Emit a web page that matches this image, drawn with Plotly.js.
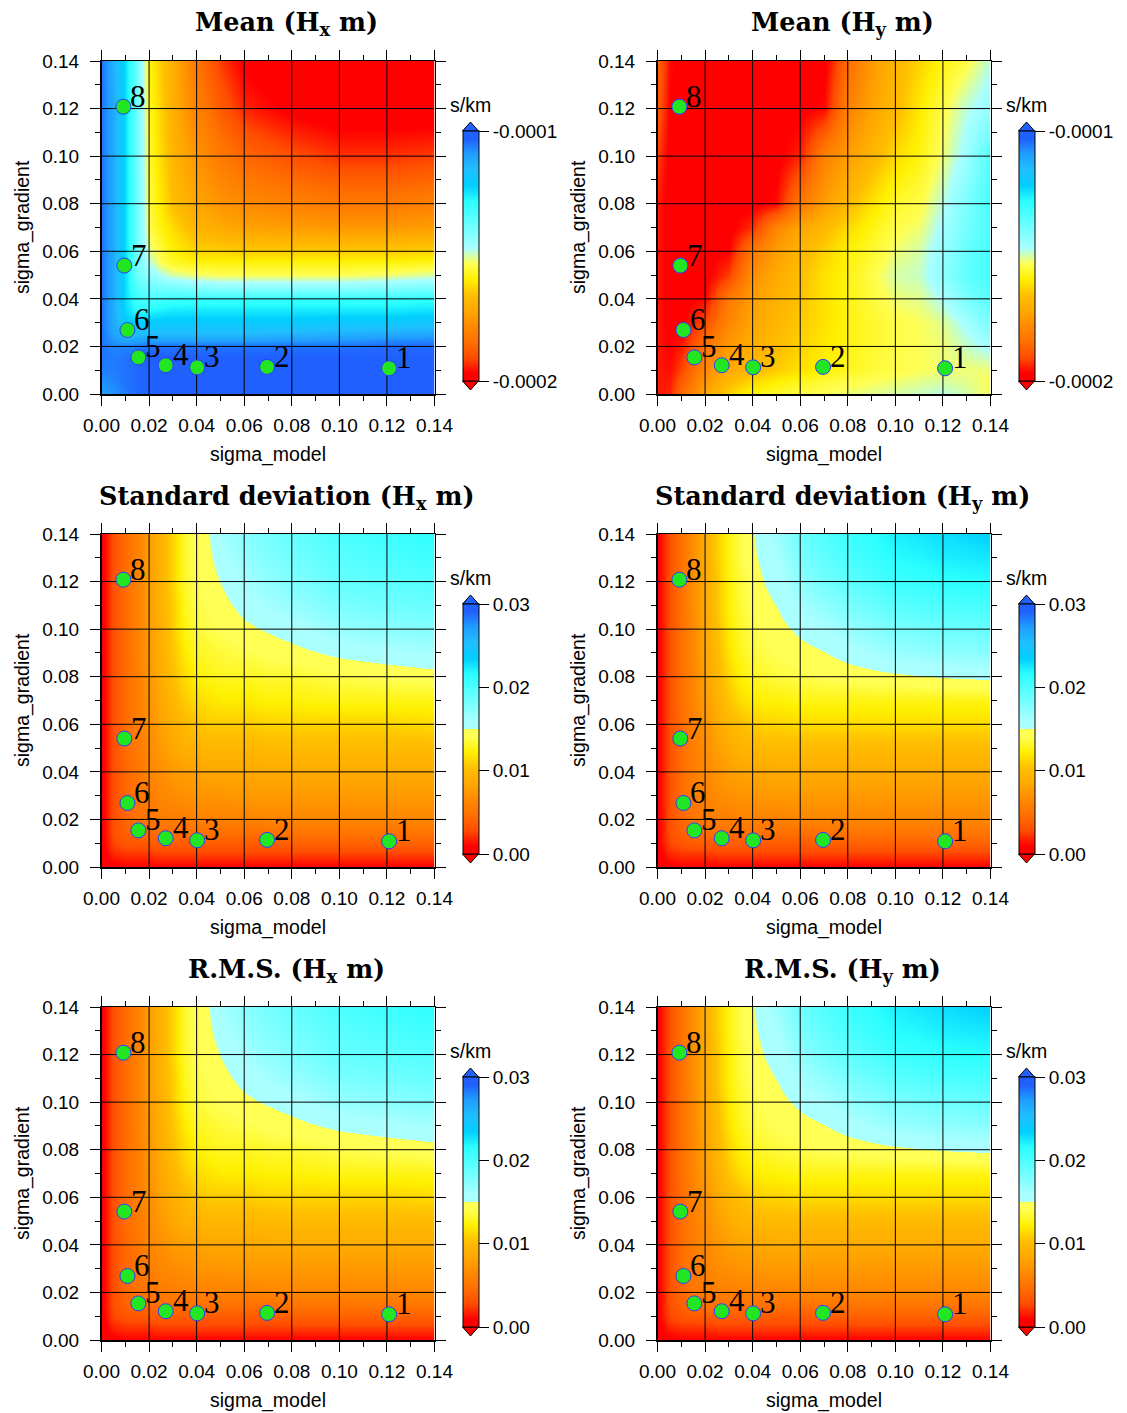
<!DOCTYPE html>
<html><head><meta charset="utf-8">
<script src="https://cdn.plot.ly/plotly-3.0.1.min.js"></script>
<style>html,body{margin:0;padding:0;background:#fff}#chart{width:1127px;height:1413px}</style>
</head><body><div id="chart"></div>
<script>
// ---------------- data ----------------
const axisRange = [0, 0.14];
const sigmaModelTicks = [0, 0.02, 0.04, 0.06, 0.08, 0.10, 0.12, 0.14];
const sigmaGradientTicks = [0, 0.02, 0.04, 0.06, 0.08, 0.10, 0.12, 0.14];

const ptLabels = ['1', '2', '3', '4', '5', '6', '7', '8'];
const ptSigmaModel = [0.1209, 0.0696, 0.0402, 0.0270, 0.0155, 0.0109, 0.0096, 0.0092];
const ptSigmaGradient = [0.0108, 0.0114, 0.0112, 0.0121, 0.0154, 0.0269, 0.0540, 0.1208];

const meanTickVals = [-1e-4, -2e-4];
const meanTickText = ['-0.0001', '-0.0002'];
const stdTickVals = [0, 0.01, 0.02, 0.03];
const stdTickText = ['0.00', '0.01', '0.02', '0.03'];

// Mean (Hx m), s/km
const meanHxX = [0, 0.005, 0.01, 0.015, 0.02, 0.025, 0.03, 0.04, 0.05, 0.06, 0.08, 0.10, 0.12, 0.14];
const meanHxY = [0, 0.005, 0.01, 0.015, 0.02, 0.025, 0.03, 0.035, 0.04, 0.045, 0.05, 0.055, 0.06, 0.07, 0.08, 0.10, 0.12, 0.14];
const meanHxZ = [
[-1.10e-4,-1.08e-4,-1.06e-4,-1.04e-4,-1.03e-4,-1.03e-4,-1.03e-4,-1.03e-4,-1.03e-4,-1.03e-4,-1.03e-4,-1.03e-4,-1.03e-4,-1.03e-4],
[-1.08e-4,-1.07e-4,-1.05e-4,-1.04e-4,-1.03e-4,-1.03e-4,-1.03e-4,-1.03e-4,-1.03e-4,-1.03e-4,-1.03e-4,-1.03e-4,-1.03e-4,-1.03e-4],
[-1.06e-4,-1.06e-4,-1.05e-4,-1.04e-4,-1.03e-4,-1.03e-4,-1.03e-4,-1.03e-4,-1.03e-4,-1.03e-4,-1.03e-4,-1.03e-4,-1.03e-4,-1.03e-4],
[-1.05e-4,-1.06e-4,-1.05e-4,-1.04e-4,-1.03e-4,-1.03e-4,-1.03e-4,-1.03e-4,-1.03e-4,-1.03e-4,-1.03e-4,-1.03e-4,-1.03e-4,-1.03e-4],
[-1.05e-4,-1.07e-4,-1.07e-4,-1.06e-4,-1.05e-4,-1.05e-4,-1.05e-4,-1.05e-4,-1.05e-4,-1.05e-4,-1.05e-4,-1.05e-4,-1.04e-4,-1.04e-4],
[-1.05e-4,-1.10e-4,-1.14e-4,-1.14e-4,-1.14e-4,-1.14e-4,-1.14e-4,-1.14e-4,-1.14e-4,-1.14e-4,-1.13e-4,-1.12e-4,-1.11e-4,-1.10e-4],
[-1.05e-4,-1.12e-4,-1.20e-4,-1.22e-4,-1.21e-4,-1.20e-4,-1.20e-4,-1.20e-4,-1.20e-4,-1.20e-4,-1.20e-4,-1.19e-4,-1.19e-4,-1.18e-4],
[-1.05e-4,-1.12e-4,-1.23e-4,-1.28e-4,-1.27e-4,-1.26e-4,-1.25e-4,-1.25e-4,-1.25e-4,-1.25e-4,-1.25e-4,-1.25e-4,-1.25e-4,-1.24e-4],
[-1.05e-4,-1.12e-4,-1.24e-4,-1.32e-4,-1.33e-4,-1.32e-4,-1.31e-4,-1.30e-4,-1.30e-4,-1.30e-4,-1.30e-4,-1.30e-4,-1.30e-4,-1.29e-4],
[-1.05e-4,-1.12e-4,-1.24e-4,-1.35e-4,-1.38e-4,-1.39e-4,-1.40e-4,-1.42e-4,-1.43e-4,-1.43e-4,-1.43e-4,-1.43e-4,-1.42e-4,-1.40e-4],
[-1.05e-4,-1.12e-4,-1.24e-4,-1.39e-4,-1.43e-4,-1.47e-4,-1.50e-4,-1.52e-4,-1.53e-4,-1.53e-4,-1.53e-4,-1.53e-4,-1.52e-4,-1.50e-4],
[-1.05e-4,-1.12e-4,-1.24e-4,-1.39e-4,-1.48e-4,-1.53e-4,-1.56e-4,-1.58e-4,-1.58e-4,-1.58e-4,-1.58e-4,-1.58e-4,-1.58e-4,-1.57e-4],
[-1.05e-4,-1.12e-4,-1.24e-4,-1.39e-4,-1.51e-4,-1.55e-4,-1.59e-4,-1.63e-4,-1.63e-4,-1.64e-4,-1.64e-4,-1.64e-4,-1.64e-4,-1.63e-4],
[-1.05e-4,-1.12e-4,-1.24e-4,-1.39e-4,-1.54e-4,-1.58e-4,-1.62e-4,-1.68e-4,-1.71e-4,-1.73e-4,-1.74e-4,-1.75e-4,-1.75e-4,-1.74e-4],
[-1.05e-4,-1.12e-4,-1.24e-4,-1.39e-4,-1.55e-4,-1.60e-4,-1.66e-4,-1.72e-4,-1.76e-4,-1.78e-4,-1.80e-4,-1.82e-4,-1.82e-4,-1.80e-4],
[-1.05e-4,-1.12e-4,-1.24e-4,-1.39e-4,-1.56e-4,-1.62e-4,-1.68e-4,-1.76e-4,-1.82e-4,-1.86e-4,-1.90e-4,-1.93e-4,-1.93e-4,-1.92e-4],
[-1.05e-4,-1.12e-4,-1.24e-4,-1.39e-4,-1.57e-4,-1.63e-4,-1.70e-4,-1.80e-4,-1.88e-4,-1.94e-4,-1.98e-4,-2.00e-4,-2.00e-4,-2.00e-4],
[-1.05e-4,-1.13e-4,-1.24e-4,-1.39e-4,-1.58e-4,-1.64e-4,-1.70e-4,-1.83e-4,-1.92e-4,-1.98e-4,-2.00e-4,-2.02e-4,-2.02e-4,-2.02e-4]
];

// Mean (Hy m), s/km
const meanHyX = [0, 0.005, 0.01, 0.02, 0.03, 0.04, 0.05, 0.06, 0.07, 0.08, 0.09, 0.10, 0.11, 0.12, 0.13, 0.14];
const meanHyY = [0, 0.005, 0.01, 0.02, 0.03, 0.04, 0.05, 0.06, 0.07, 0.08, 0.10, 0.12, 0.14];
const meanHyZ = [
[-1.95e-4,-1.94e-4,-1.85e-4,-1.72e-4,-1.63e-4,-1.58e-4,-1.56e-4,-1.54e-4,-1.53e-4,-1.52e-4,-1.51e-4,-1.50e-4,-1.49e-4,-1.48e-4,-1.50e-4,-1.53e-4],
[-1.95e-4,-1.95e-4,-1.88e-4,-1.75e-4,-1.67e-4,-1.62e-4,-1.59e-4,-1.57e-4,-1.55e-4,-1.54e-4,-1.53e-4,-1.52e-4,-1.51e-4,-1.50e-4,-1.51e-4,-1.53e-4],
[-1.95e-4,-1.96e-4,-1.91e-4,-1.78e-4,-1.71e-4,-1.67e-4,-1.64e-4,-1.61e-4,-1.59e-4,-1.57e-4,-1.55e-4,-1.54e-4,-1.53e-4,-1.52e-4,-1.52e-4,-1.52e-4],
[-1.95e-4,-1.97e-4,-1.95e-4,-1.83e-4,-1.75e-4,-1.70e-4,-1.66e-4,-1.63e-4,-1.60e-4,-1.58e-4,-1.56e-4,-1.54e-4,-1.53e-4,-1.52e-4,-1.49e-4,-1.46e-4],
[-1.95e-4,-1.98e-4,-1.98e-4,-1.90e-4,-1.79e-4,-1.72e-4,-1.68e-4,-1.64e-4,-1.61e-4,-1.58e-4,-1.56e-4,-1.54e-4,-1.53e-4,-1.51e-4,-1.46e-4,-1.40e-4],
[-1.95e-4,-1.98e-4,-1.98e-4,-1.96e-4,-1.82e-4,-1.74e-4,-1.69e-4,-1.65e-4,-1.61e-4,-1.58e-4,-1.55e-4,-1.52e-4,-1.51e-4,-1.47e-4,-1.40e-4,-1.35e-4],
[-1.95e-4,-1.98e-4,-1.98e-4,-1.98e-4,-1.92e-4,-1.77e-4,-1.71e-4,-1.66e-4,-1.61e-4,-1.58e-4,-1.54e-4,-1.50e-4,-1.49e-4,-1.43e-4,-1.36e-4,-1.32e-4],
[-1.95e-4,-1.98e-4,-1.98e-4,-1.98e-4,-1.97e-4,-1.82e-4,-1.74e-4,-1.68e-4,-1.63e-4,-1.59e-4,-1.56e-4,-1.52e-4,-1.50e-4,-1.44e-4,-1.37e-4,-1.32e-4],
[-1.95e-4,-1.98e-4,-1.98e-4,-1.98e-4,-1.98e-4,-1.93e-4,-1.79e-4,-1.72e-4,-1.67e-4,-1.62e-4,-1.58e-4,-1.54e-4,-1.52e-4,-1.46e-4,-1.39e-4,-1.33e-4],
[-1.95e-4,-1.98e-4,-1.98e-4,-1.98e-4,-1.98e-4,-1.98e-4,-1.96e-4,-1.82e-4,-1.74e-4,-1.67e-4,-1.61e-4,-1.56e-4,-1.54e-4,-1.48e-4,-1.40e-4,-1.32e-4],
[-1.92e-4,-1.98e-4,-1.98e-4,-1.98e-4,-1.98e-4,-1.98e-4,-1.98e-4,-1.94e-4,-1.80e-4,-1.74e-4,-1.68e-4,-1.62e-4,-1.58e-4,-1.52e-4,-1.45e-4,-1.34e-4],
[-1.88e-4,-1.97e-4,-1.98e-4,-1.98e-4,-1.98e-4,-1.98e-4,-1.98e-4,-1.98e-4,-1.96e-4,-1.80e-4,-1.73e-4,-1.67e-4,-1.60e-4,-1.54e-4,-1.48e-4,-1.44e-4],
[-1.86e-4,-1.96e-4,-1.98e-4,-1.98e-4,-1.98e-4,-1.98e-4,-1.98e-4,-1.98e-4,-1.98e-4,-1.85e-4,-1.75e-4,-1.68e-4,-1.63e-4,-1.58e-4,-1.54e-4,-1.48e-4]
];

// Standard deviation (Hx m), s/km
const stdHxX = [0, 0.005, 0.01, 0.015, 0.02, 0.025, 0.03, 0.035, 0.04, 0.045, 0.05, 0.06, 0.07, 0.08, 0.10, 0.12, 0.14];
const stdHxY = [0, 0.005, 0.01, 0.015, 0.02, 0.03, 0.04, 0.05, 0.06, 0.07, 0.08, 0.09, 0.10, 0.11, 0.12, 0.13, 0.14];
const stdHxZ = [
[0, .0006, .0009, .0009, .0009, .0009, .0009, .0009, .0009, .0009, .0009, .0009, .0009, .0009, .0009, .0009, .0009],
[.0003, .0018, .0021, .0021, .0021, .0024, .0024, .0024, .0024, .0024, .0024, .0024, .0024, .0024, .0024, .0024, .0024],
[.0006, .0027, .0033, .0033, .0036, .0036, .0036, .0036, .0036, .0036, .0036, .0036, .0036, .0039, .0039, .0039, .0039],
[.0006, .003, .0039, .0045, .0045, .0048, .0048, .0048, .0048, .0048, .0048, .0048, .0048, .0051, .0051, .0051, .0051],
[.0006, .003, .0042, .0048, .0051, .0054, .0057, .0057, .006, .006, .006, .006, .0063, .0063, .0063, .0063, .0063],
[.0006, .003, .0042, .0051, .0057, .0063, .0066, .0069, .0072, .0072, .0072, .0075, .0075, .0075, .0075, .0075, .0075],
[.0006, .003, .0042, .0051, .0063, .0069, .0075, .0078, .0081, .0084, .0084, .0084, .0087, .0087, .0087, .0087, .0087],
[.0006, .003, .0045, .0054, .0066, .0075, .0084, .009, .0093, .0096, .0096, .0096, .0099, .0099, .0099, .0099, .0099],
[.0006, .003, .0045, .0057, .0069, .0081, .009, .0099, .0105, .0108, .0108, .0108, .0111, .0111, .0111, .0111, .0114],
[.0006, .003, .0045, .0057, .0072, .0084, .0096, .0108, .0114, .0117, .012, .012, .0123, .0123, .0126, .0126, .0126],
[.0006, .003, .0045, .0057, .0075, .0087, .0102, .0114, .0123, .0126, .0129, .0129, .0132, .0132, .0138, .0141, .0144],
[.0006, .003, .0045, .006, .0075, .009, .0105, .012, .0129, .0132, .0135, .0138, .01425, .01455, .0153, .01575, .0162],
[.0006, .003, .0045, .006, .0078, .009, .0108, .0126, .0135, .0138, .0141, .0147, .01515, .0156, .0168, .01725, .0177],
[.0006, .003, .0045, .006, .0078, .0093, .0108, .0129, .0138, .0141, .01455, .01545, .0162, .0168, .018, .01845, .0189],
[.0006, .003, .0045, .006, .0078, .0093, .0111, .0132, .0141, .0144, .01503, .0162, .0171, .0177, .0189, .01935, .0198],
[.0006, .003, .0045, .006, .0078, .0093, .0111, .0132, .01425, .0147, .0156, .0168, .0177, .0183, .0195, .0201, .0207],
[.0006, .003, .0045, .006, .0078, .0093, .0111, .0132, .0144, .01497, .0162, .0174, .0183, .0189, .0201, .0207, .0213]
];

// Standard deviation (Hy m), s/km
const stdHyX = [0, 0.005, 0.01, 0.015, 0.02, 0.025, 0.03, 0.035, 0.04, 0.045, 0.05, 0.06, 0.07, 0.08, 0.10, 0.12, 0.14];
const stdHyY = [0, 0.005, 0.01, 0.015, 0.02, 0.03, 0.04, 0.05, 0.06, 0.07, 0.08, 0.09, 0.10, 0.11, 0.12, 0.13, 0.14];
const stdHyZ = [
[0, .0006, .0009, .0009, .0009, .0009, .0009, .0009, .0009, .0009, .0009, .0009, .0009, .0009, .0009, .0009, .0009],
[.0003, .0018, .0021, .0021, .0021, .0024, .0024, .0024, .0024, .0024, .0024, .0024, .0024, .0024, .0024, .0024, .0024],
[.0006, .0027, .0033, .0036, .0036, .0036, .0036, .0036, .0036, .0036, .0036, .0036, .0036, .0039, .0039, .0039, .0039],
[.0006, .003, .0039, .0045, .0048, .0048, .0048, .0048, .0048, .0048, .0048, .0048, .0051, .0051, .0051, .0051, .0051],
[.0006, .003, .0042, .0051, .0054, .0057, .0057, .006, .006, .006, .006, .0063, .0063, .0063, .0063, .0063, .0063],
[.0006, .003, .0045, .0054, .006, .0066, .0069, .0072, .0072, .0075, .0075, .0075, .0075, .0075, .0075, .0075, .0075],
[.0006, .003, .0045, .0057, .0066, .0072, .0078, .0081, .0084, .0084, .0087, .0087, .0087, .0087, .0087, .0087, .0087],
[.0006, .003, .0045, .0057, .0069, .0078, .0087, .0093, .0096, .0099, .0099, .0099, .0099, .0099, .0099, .0099, .0099],
[.0006, .003, .0045, .006, .0072, .0084, .0096, .0102, .0108, .0111, .0111, .0114, .0114, .0114, .0114, .0114, .0114],
[.0006, .003, .0048, .0063, .0078, .009, .0105, .0114, .012, .0123, .0123, .0126, .0126, .0126, .0126, .0126, .0126],
[.0006, .003, .0048, .0063, .0081, .0096, .0111, .0123, .0129, .0132, .0135, .0138, .0141, .01425, .0147, .01506, .0153],
[.0006, .003, .0048, .0066, .0084, .0099, .0117, .0129, .0135, .0138, .0141, .01455, .01494, .01551, .01671, .0171, .0174],
[.0006, .003, .0048, .0066, .0087, .0102, .012, .0132, .0138, .01425, .01455, .0153, .0159, .0168, .018, .0186, .0189],
[.0006, .003, .0048, .0069, .0087, .0105, .0123, .0135, .0141, .0147, .01503, .0162, .0171, .018, .0195, .0201, .0204],
[.0006, .003, .0048, .0069, .0087, .0105, .0123, .0135, .0144, .01503, .01545, .0171, .0183, .0192, .0207, .0213, .0216],
[.0006, .003, .0048, .0069, .009, .0108, .0126, .0138, .0147, .01545, .0159, .018, .0192, .0201, .0216, .0222, .0225],
[.0006, .003, .0048, .0069, .009, .0108, .0126, .0138, .01485, .0159, .0165, .0186, .0198, .0207, .0222, .0228, .0234]
];

// R.M.S. panels: in the picture they are indistinguishable from the standard deviation panels
const rmsHxX = stdHxX, rmsHxY = stdHxY, rmsHxZ = stdHxZ;
const rmsHyX = stdHyX, rmsHyY = stdHyY, rmsHyZ = stdHyZ;

// ---------------- styling ----------------
const W = 1127, H = 1413;
const colPx = [[101.5, 434.5], [657.5, 990.5]];
const rowPx = [[61, 394], [534, 867], [1007, 1340]];
const px2x = p => p / W, px2y = p => 1 - p / H;

const BLUE = 'rgb(32,96,255)', RED = 'rgb(255,0,0)';
const meanScale = [
  [0, RED], [0.03125, 'rgb(255,0,0)'], [0.09375, 'rgb(255,77,0)'], [0.15625, 'rgb(255,112,0)'],
  [0.21875, 'rgb(255,138,0)'], [0.28125, 'rgb(255,168,0)'], [0.34375, 'rgb(255,191,0)'],
  [0.40625, 'rgb(255,240,0)'], [0.46875, 'rgb(255,255,84)'], [0.53125, 'rgb(170,255,255)'],
  [0.59375, 'rgb(127,255,255)'], [0.65625, 'rgb(85,255,255)'], [0.71875, 'rgb(42,255,255)'],
  [0.78125, 'rgb(0,207,255)'], [0.84375, 'rgb(32,191,255)'], [0.90625, 'rgb(32,159,255)'],
  [0.96875, 'rgb(32,96,255)'], [1, BLUE]
];
const stdScale = [
  [0, RED], [0.03125, 'rgb(255,0,0)'], [0.09375, 'rgb(255,77,0)'], [0.15625, 'rgb(255,112,0)'],
  [0.21875, 'rgb(255,138,0)'], [0.28125, 'rgb(255,168,0)'], [0.34375, 'rgb(255,191,0)'],
  [0.40625, 'rgb(255,240,0)'], [0.46875, 'rgb(255,255,84)'], [0.5, 'rgb(255,255,84)'],
  [0.5, 'rgb(170,255,255)'], [0.53125, 'rgb(170,255,255)'],
  [0.59375, 'rgb(127,255,255)'], [0.65625, 'rgb(85,255,255)'], [0.71875, 'rgb(42,255,255)'],
  [0.78125, 'rgb(0,207,255)'], [0.84375, 'rgb(32,191,255)'], [0.90625, 'rgb(32,159,255)'],
  [0.96875, 'rgb(32,96,255)'], [1, BLUE]
];

const SANS = 'Liberation Sans, Arial, Helvetica, sans-serif';
const SERIF = 'Liberation Serif, Times New Roman, serif';
const TITLE_SERIF = 'DejaVu Serif, Liberation Serif, serif';

const panels = [
  {title: '<b>Mean (H<sub>x</sub> m)</b>', x: meanHxX, y: meanHxY, z: meanHxZ, cs: meanScale, zmin: -2e-4, zmax: -1e-4, tv: meanTickVals, tt: meanTickText},
  {title: '<b>Mean (H<sub>y</sub> m)</b>', x: meanHyX, y: meanHyY, z: meanHyZ, cs: meanScale, zmin: -2e-4, zmax: -1e-4, tv: meanTickVals, tt: meanTickText},
  {title: '<b>Standard deviation (H<sub>x</sub> m)</b>', x: stdHxX, y: stdHxY, z: stdHxZ, cs: stdScale, zmin: 0, zmax: 0.03, tv: stdTickVals, tt: stdTickText},
  {title: '<b>Standard deviation (H<sub>y</sub> m)</b>', x: stdHyX, y: stdHyY, z: stdHyZ, cs: stdScale, zmin: 0, zmax: 0.03, tv: stdTickVals, tt: stdTickText},
  {title: '<b>R.M.S. (H<sub>x</sub> m)</b>', x: rmsHxX, y: rmsHxY, z: rmsHxZ, cs: stdScale, zmin: 0, zmax: 0.03, tv: stdTickVals, tt: stdTickText},
  {title: '<b>R.M.S. (H<sub>y</sub> m)</b>', x: rmsHyX, y: rmsHyY, z: rmsHyZ, cs: stdScale, zmin: 0, zmax: 0.03, tv: stdTickVals, tt: stdTickText}
];

const layout = {
  width: W, height: H, margin: {l: 0, r: 0, t: 0, b: 0},
  paper_bgcolor: '#fff', plot_bgcolor: '#fff', showlegend: false,
  annotations: [], shapes: []
};
const traces = [];

function axisBase(domain, anchor, ticks, standoff) {
  return {
    domain, anchor, range: axisRange.slice(), tickvals: ticks, tickformat: '.2f',
    ticks: 'outside', ticklen: 10, tickwidth: 1, tickcolor: '#000', ticklabelstandoff: standoff,
    showline: true, linecolor: '#000', linewidth: 1.5, mirror: 'allticks',
    showgrid: false, zeroline: false, fixedrange: true,
    minor: {dtick: 0.01, tick0: 0, ticks: 'outside', ticklen: 5, tickwidth: 1, tickcolor: '#000', showgrid: false},
    tickfont: {family: SANS, size: 19, color: '#000'}
  };
}

panels.forEach((p, i) => {
  const r = Math.floor(i / 2), c = i % 2;
  const sfx = i === 0 ? '' : String(i + 1);
  const xa = 'x' + sfx, ya = 'y' + sfx;
  const [xl, xr] = colPx[c], [yt, yb] = rowPx[r];
  layout['xaxis' + sfx] = axisBase([px2x(xl), px2x(xr)], ya, sigmaModelTicks, 4);
  layout['yaxis' + sfx] = axisBase([px2y(yb), px2y(yt)], xa, sigmaGradientTicks, 7);

  const barL = xr + 28, barT = yt + 70, barLen = 250, barW = 16;
  traces.push({
    type: 'heatmap', x: p.x, y: p.y, z: p.z, zsmooth: 'best', zmin: p.zmin, zmax: p.zmax,
    colorscale: p.cs, xaxis: xa, yaxis: ya, hoverinfo: 'skip',
    colorbar: {
      x: px2x(barL), xanchor: 'left', xpad: 0, y: px2y(barT + barLen / 2), yanchor: 'middle', ypad: 0,
      len: barLen, lenmode: 'pixels', thickness: barW, thicknessmode: 'pixels',
      outlinewidth: 1, outlinecolor: '#000', tickmode: 'array', tickvals: p.tv, ticktext: p.tt,
      ticks: 'outside', ticklen: 10, tickwidth: 1, tickcolor: '#000',
      tickfont: {family: SANS, size: 19, color: '#000'}
    }
  });

  // grid lines drawn over the field, under the points
  const gx = [], gy = [];
  sigmaModelTicks.forEach(v => { if (v > axisRange[0] && v < axisRange[1]) { gx.push(v, v, null); gy.push(axisRange[0], axisRange[1], null); } });
  sigmaGradientTicks.forEach(v => { if (v > axisRange[0] && v < axisRange[1]) { gx.push(axisRange[0], axisRange[1], null); gy.push(v, v, null); } });
  traces.push({type: 'scatter', mode: 'lines', x: gx, y: gy, line: {color: '#000', width: 1}, hoverinfo: 'skip', xaxis: xa, yaxis: ya});

  traces.push({
    type: 'scatter', mode: 'markers', x: ptSigmaModel, y: ptSigmaGradient, xaxis: xa, yaxis: ya,
    marker: {size: 15, color: '#22e622', line: {color: '#2a3cff', width: 1}}, hoverinfo: 'skip', cliponaxis: false
  });
  ptLabels.forEach((lab, k) => {
    layout.annotations.push({
      x: ptSigmaModel[k], y: ptSigmaGradient[k], xref: xa, yref: ya, text: lab, showarrow: false,
      xanchor: 'left', yanchor: 'bottom', xshift: 5, yshift: -9,
      font: {family: SERIF, size: 31, color: '#000'}
    });
  });

  // titles and axis titles
  const cx = (xl + xr) / 2;
  layout.annotations.push({x: px2x(cx + 18), y: px2y(yt - 37), xref: 'paper', yref: 'paper', text: p.title, showarrow: false,
    xanchor: 'center', yanchor: 'middle', font: {family: TITLE_SERIF, size: 25.5, color: '#000'}});
  layout.annotations.push({x: px2x(cx), y: px2y(yb + 60), xref: 'paper', yref: 'paper', text: 'sigma_model', showarrow: false,
    xanchor: 'center', yanchor: 'middle', font: {family: SANS, size: 19.5, color: '#000'}});
  layout.annotations.push({x: px2x(xl - 79), y: px2y((yt + yb) / 2), xref: 'paper', yref: 'paper', text: 'sigma_gradient', showarrow: false,
    textangle: -90, xanchor: 'center', yanchor: 'middle', font: {family: SANS, size: 19.5, color: '#000'}});
  layout.annotations.push({x: px2x(barL + barW / 2), y: px2y(barT - 26), xref: 'paper', yref: 'paper', text: 's/km', showarrow: false,
    xanchor: 'center', yanchor: 'middle', font: {family: SANS, size: 19.5, color: '#000'}});

  // extension triangles on the colour bar
  const tri = (yBase, yTip, col) => ({
    type: 'path', xref: 'paper', yref: 'paper', layer: 'above',
    path: `M ${px2x(barL)},${px2y(yBase)} L ${px2x(barL + barW)},${px2y(yBase)} L ${px2x(barL + barW / 2)},${px2y(yTip)} Z`,
    fillcolor: col, line: {color: '#000', width: 1}
  });
  layout.shapes.push(tri(barT, barT - 9, BLUE));
  layout.shapes.push(tri(barT + barLen, barT + barLen + 9, RED));
});

Plotly.newPlot('chart', traces, layout, {staticPlot: true});
</script>
</body></html>
